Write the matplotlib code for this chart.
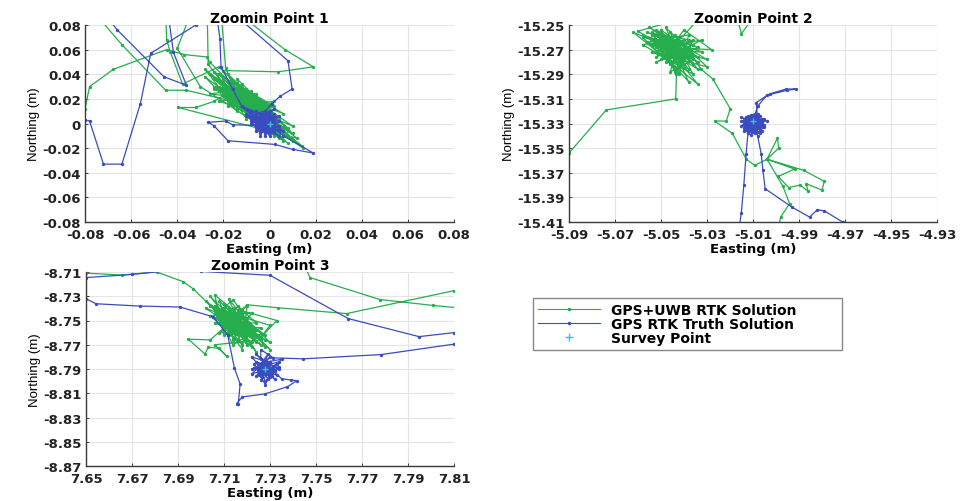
import numpy as np
import matplotlib
matplotlib.use("Agg")
import matplotlib.pyplot as plt
from matplotlib.lines import Line2D

plt.rcParams['axes.unicode_minus'] = False
plt.rcParams['font.family'] = ['DejaVu Sans']

NAN = float('nan')

# ---------------- data ----------------
titles = ["Zoomin Point 1", "Zoomin Point 2", "Zoomin Point 3"]
legend_labels = ["GPS+UWB RTK Solution", "GPS RTK Truth Solution", "Survey Point"]

p1_xticks = [-0.08, -0.06, -0.04, -0.02, 0, 0.02, 0.04, 0.06, 0.08]
p1_xlabels = ["-0.08", "-0.06", "-0.04", "-0.02", "0", "0.02", "0.04", "0.06", "0.08"]
p1_yticks = [-0.08, -0.06, -0.04, -0.02, 0, 0.02, 0.04, 0.06, 0.08]
p1_ylabels = ["-0.08", "-0.06", "-0.04", "-0.02", "0", "0.02", "0.04", "0.06", "0.08"]

p2_xticks = [-5.09, -5.07, -5.05, -5.03, -5.01, -4.99, -4.97, -4.95, -4.93]
p2_xlabels = ["-5.09", "-5.07", "-5.05", "-5.03", "-5.01", "-4.99", "-4.97", "-4.95", "-4.93"]
p2_yticks = [-15.41, -15.39, -15.37, -15.35, -15.33, -15.31, -15.29, -15.27, -15.25]
p2_ylabels = ["-15.41", "-15.39", "-15.37", "-15.35", "-15.33", "-15.31", "-15.29", "-15.27", "-15.25"]

p3_xticks = [7.65, 7.67, 7.69, 7.71, 7.73, 7.75, 7.77, 7.79, 7.81]
p3_xlabels = ["7.65", "7.67", "7.69", "7.71", "7.73", "7.75", "7.77", "7.79", "7.81"]
p3_yticks = [-8.87, -8.85, -8.83, -8.81, -8.79, -8.77, -8.75, -8.73, -8.71]
p3_ylabels = ["-8.87", "-8.85", "-8.83", "-8.81", "-8.79", "-8.77", "-8.75", "-8.73", "-8.71"]

survey_pts = [(0.0, 0.0), (-5.010, -15.328), (7.728, -8.790)]

g1 = [(-0.085,-0.005),(-0.080,0.012),(-0.078,0.030),(-0.0677,0.044),(-0.0446,0.060),(-0.037,0.056),(-0.027,0.054),(-0.026,0.050),
(-0.010,0.020),(-0.022,0.035),(-0.002,0.012),(-0.018,0.040),(0.004,-0.002),(-0.024,0.030),(-0.006,0.024),(-0.014,0.010),(-0.028,0.038),(-0.004,0.004),(-0.016,0.028),(0.008,-0.006),(-0.020,0.022),(-0.008,0.016),(0.012,-0.012),
(-0.0395,0.013),(-0.032,0.013),(-0.024,0.018),
(-0.012,0.032),(-0.018,0.014),(0.002,0.018),(-0.010,0.004),(-0.024,0.042),(0.006,0.008),(-0.014,0.022),(0.014,-0.018),(-0.006,0.006),(-0.020,0.034),(-0.002,-0.004),(-0.012,0.026),(0.010,-0.002),(-0.016,0.018),
(-0.036,0.027),(-0.045,0.027),(-0.064,0.064),(-0.075,0.088),(-0.045,0.090),(-0.0446,0.068),(-0.043,0.058),(-0.0377,0.032),
(-0.022,0.046),(-0.004,0.014),(0.004,0.002),(-0.010,0.028),(-0.026,0.024),(-0.006,0.020),(0.008,-0.010),(-0.014,0.016),(-0.008,0.008),(-0.018,0.030),(0.000,0.010),(-0.012,0.018),(0.006,-0.014),
(-0.030,0.030),(-0.040,0.061),(-0.034,0.090),(-0.027,0.090),(-0.0266,0.048),
(-0.016,0.024),(-0.004,0.018),(-0.020,0.028),(0.002,0.004),(-0.010,0.012),(-0.014,0.036),(0.010,-0.008),(-0.008,0.022),(-0.022,0.018),(-0.002,0.008),(-0.012,0.014),(0.004,-0.008),
(-0.020,0.043),(0.0038,0.042),(0.019,0.046),(0.0067,0.060),(-0.014,0.090),(-0.021,0.090),(-0.019,0.045),
(-0.016,0.032),(-0.006,0.012),(0.000,0.002),(-0.010,0.024),(-0.018,0.020),(-0.028,0.044),(-0.004,0.010),(0.006,-0.004),(-0.014,0.012),(-0.020,0.026),(0.002,-0.010),(-0.008,0.018),(0.0147,-0.020),(-0.002,0.000),(-0.024,0.036),(-0.010,0.016),(0.008,-0.016),(-0.016,0.020),(-0.006,0.002),(-0.012,0.030),
(-0.018,0.026),(-0.004,0.006),(-0.022,0.040),(0.002,0.014),(-0.010,0.008),(-0.014,0.028),(0.004,-0.012),(-0.008,0.026),(-0.016,0.014),(-0.002,0.016),(-0.012,0.022),(0.010,-0.014),(-0.020,0.032),(-0.006,0.016),(-0.026,0.040),(-0.008,0.012),
(-0.014,0.024),(-0.004,0.008),(-0.018,0.034),(0.000,0.006),(-0.012,0.020),(-0.020,0.024),(-0.008,0.010),(-0.016,0.030),(0.002,0.000),(-0.010,0.018),(-0.024,0.028),(-0.006,0.014),(-0.014,0.018),(0.006,-0.008),(-0.012,0.024),(-0.018,0.022),(-0.002,0.010),(-0.010,0.020),(-0.022,0.030),(-0.008,0.014),(-0.014,0.026),(0.004,0.004),(-0.012,0.016),(-0.016,0.022),(-0.004,0.012),(-0.020,0.036),(-0.010,0.022),(-0.006,0.018),(-0.012,0.012),(-0.018,0.028),(0.000,0.014),(-0.008,0.020),(-0.014,0.020),(-0.010,0.026),(-0.016,0.026),(-0.006,0.010),(-0.012,0.028),(-0.002,0.004),(-0.008,0.024),(-0.014,0.014),(-0.004,0.020),(-0.010,0.010),(-0.018,0.018),(-0.006,0.022),(0.002,0.008),(-0.012,0.020),(-0.016,0.016),(-0.008,0.006),(0.008,-0.004),(-0.004,0.016)]

b1 = [(-0.085,0.004),(-0.080,0.003),(-0.078,0.002),(-0.072,-0.033),(-0.064,-0.033),(-0.056,0.016),(-0.0515,0.057),(-0.032,0.080),(-0.026,0.090),
(-0.072,0.090),(-0.066,0.076),(-0.0458,0.038),(-0.036,0.031),(-0.0417,0.058),(-0.044,0.090),
(-0.023,0.090),(-0.0215,0.069),(-0.021,0.046),(-0.016,0.028),(-0.012,0.014),
(-0.006,0.006),(0.002,-0.006),(-0.010,0.012),(0.004,0.002),(-0.004,-0.008),(-0.008,0.002),(0.000,0.010),(-0.002,-0.004),(0.004,-0.010),(-0.006,0.000),(0.002,0.006),(-0.004,0.004),(0.000,-0.008),(-0.008,0.008),(0.002,-0.002),
(-0.016,-0.001),(-0.019,0.002),(-0.0265,0.001),(-0.024,-0.002),(-0.018,-0.014),(0.0024,-0.017),(0.010,-0.021),(0.019,-0.024),(0.006,-0.010),
(-0.002,0.002),(0.006,-0.006),(-0.004,-0.002),(-0.010,0.006),(0.000,0.004),(-0.002,-0.010),(0.002,0.000),(-0.006,0.010),(0.004,-0.004),(-0.002,0.006),(-0.012,0.014),(-0.004,0.000),(0.002,0.012),(-0.006,-0.004),(0.000,-0.002),(-0.008,0.004),(0.004,0.006),(-0.002,-0.006),
(-0.004,-0.004),(0.000,0.000),(-0.006,0.002),(0.002,-0.008),(-0.002,0.004),(-0.008,0.006),(0.000,-0.006),(-0.004,0.008),(0.002,0.002),(-0.006,-0.006),(-0.002,0.000),(0.004,-0.006),(-0.008,0.000),(0.000,0.006),(-0.004,-0.010),(-0.002,0.008),(0.002,-0.004),(-0.006,0.004),(0.000,-0.010),(-0.004,0.002),(-0.002,-0.002),(-0.008,0.010),(0.002,0.004),(-0.006,-0.002),(0.000,0.002),(-0.004,-0.006),(0.004,-0.002),(-0.002,0.010),(-0.006,0.008),(0.000,-0.004),(-0.010,0.008),(-0.002,-0.008),(0.002,0.008),(-0.004,0.006),(0.001,0.016),
(0.0045,0.022),(0.0098,0.028),(0.008,0.051),(-0.016,0.090)]

g2 = [(-5.095,-15.365),(-5.090,-15.354),(-5.0738,-15.319),(-5.0436,-15.310),(-5.0433,-15.290),
(-5.040,-15.268),(-5.055,-15.252),(-5.034,-15.280),(-5.050,-15.262),(-5.044,-15.285),(-5.058,-15.260),(-5.036,-15.266),(-5.048,-15.276),(-5.052,-15.254),(-5.030,-15.278),(-5.046,-15.270),(-5.056,-15.264),(-5.038,-15.258),(-5.042,-15.290),(-5.050,-15.270),(-5.032,-15.272),(-5.054,-15.258),(-5.040,-15.282),(-5.046,-15.256),(-5.036,-15.290),(-5.058,-15.266),(-5.044,-15.262),(-5.034,-15.286),(-5.060,-15.255),
(-5.039,-15.244),(-5.033,-15.244),
(-5.050,-15.278),(-5.040,-15.254),(-5.028,-15.270),(-5.052,-15.268),(-5.038,-15.296),(-5.046,-15.264),(-5.056,-15.256),(-5.034,-15.268),(-5.042,-15.276),(-5.048,-15.252),(-5.030,-15.284),(-5.054,-15.272),(-5.044,-15.280),(-5.038,-15.262),(-5.050,-15.258),(-5.036,-15.278),(-5.046,-15.288),(-5.042,-15.266),(-5.032,-15.262),(-5.052,-15.280),(-5.040,-15.272),(-5.048,-15.266),(-5.034,-15.298),(-5.062,-15.256),(-5.044,-15.270),
(-5.046,-15.274),(-5.054,-15.262),(-5.040,-15.278),(-5.050,-15.266),(-5.036,-15.274),(-5.044,-15.258),(-5.052,-15.272),(-5.040,-15.262),(-5.048,-15.280),(-5.038,-15.268),(-5.056,-15.260),(-5.044,-15.276),(-5.034,-15.276),(-5.050,-15.254),(-5.042,-15.284),(-5.048,-15.260),(-5.038,-15.286),(-5.054,-15.266),(-5.042,-15.270),(-5.036,-15.282),(-5.046,-15.266),(-5.058,-15.258),(-5.040,-15.274),(-5.050,-15.264),(-5.044,-15.288),(-5.036,-15.262),(-5.052,-15.276),(-5.042,-15.260),(-5.048,-15.272),(-5.038,-15.276),(-5.046,-15.282),(-5.054,-15.256),(-5.040,-15.266),(-5.0325,-15.286),
(-5.0274,-15.294),(-5.0199,-15.318),(-5.0216,-15.328),(-5.0267,-15.328),(-5.019,-15.338),(-5.0129,-15.359),(-5.0093,-15.364),(-5.0039,-15.359),(-4.9994,-15.342),(-4.9988,-15.350),(-5.0039,-15.359),(-4.9919,-15.367),(-4.999,-15.373),(-4.9945,-15.382),(-4.9895,-15.380),(-4.9861,-15.385),(-4.9868,-15.379),(-4.980,-15.384),(-4.979,-15.377),(-4.988,-15.368),(-5.0039,-15.359),(-4.997,-15.381),(-4.9941,-15.395),(-4.998,-15.406),(-4.999,-15.415),
(NAN,NAN),(-5.017,-15.244),(-5.015,-15.257),(-5.010,-15.244)]

b2 = [(-5.0165,-15.420),(-5.0158,-15.412),(-5.0151,-15.403),(-5.0140,-15.380),(-5.0130,-15.355),(-5.0122,-15.338),
(-5.012,-15.326),(-5.006,-15.330),(-5.014,-15.334),(-5.008,-15.322),(-5.012,-15.338),(-5.005,-15.326),(-5.010,-15.332),(-5.015,-15.328),(-5.006,-15.336),(-5.011,-15.323),(-5.008,-15.334),(-5.013,-15.330),(-5.004,-15.328),(-5.010,-15.326),(-5.014,-15.336),(-5.007,-15.324),(-5.012,-15.332),(-5.009,-15.329),(-5.015,-15.325),(-5.006,-15.333),(-5.011,-15.336),(-5.008,-15.327),
(-5.0086,-15.313),(-5.0028,-15.306),(-4.9956,-15.302),(-4.9915,-15.302),(-4.9950,-15.303),(-5.0040,-15.307),(-5.0080,-15.316),(-5.0090,-15.322),
(-5.013,-15.333),(-5.007,-15.329),(-5.011,-15.339),(-5.005,-15.331),(-5.014,-15.327),(-5.009,-15.335),(-5.012,-15.324),(-5.006,-15.327),(-5.010,-15.337),(-5.013,-15.329),(-5.007,-15.335),(-5.010,-15.330),
(-5.011,-15.331),(-5.008,-15.325),(-5.013,-15.335),(-5.006,-15.329),(-5.010,-15.334),(-5.014,-15.331),(-5.008,-15.337),(-5.012,-15.327),(-5.005,-15.333),(-5.011,-15.328),(-5.009,-15.338),(-5.013,-15.325),(-5.007,-15.331),(-5.012,-15.335),(-5.010,-15.323),(-5.015,-15.332),(-5.006,-15.326),(-5.009,-15.333),(-5.012,-15.330),(-5.007,-15.338),(-5.014,-15.329),(-5.010,-15.328),
(-5.0080,-15.340),(-5.0064,-15.355),(-5.0057,-15.368),(-5.0047,-15.383),(-4.9930,-15.398),(-4.9854,-15.406),(-4.982,-15.400),(-4.979,-15.401),(-4.971,-15.410),(-4.965,-15.415)]

g3 = [(7.645,-8.711),(7.650,-8.711),(7.6655,-8.7125),(7.6807,-8.710),(7.6923,-8.718),(7.6967,-8.724),
(7.716,-8.760),(7.704,-8.730),(7.724,-8.768),(7.708,-8.742),(7.714,-8.733),(7.728,-8.772),(7.702,-8.740),(7.720,-8.752),(7.710,-8.762),(7.706,-8.729),(7.726,-8.760),(7.712,-8.748),(7.718,-8.770),(7.704,-8.746),(7.722,-8.744),(7.714,-8.766),(7.708,-8.734),(7.730,-8.774),(7.712,-8.740),(7.720,-8.762),(7.706,-8.752),(7.724,-8.752),(7.716,-8.738),(7.710,-8.756),
(7.7040,-8.766),(7.6945,-8.7654),(7.7017,-8.7776),(7.7032,-8.772),(7.7080,-8.773),(7.7112,-8.7795),(7.7060,-8.770),
(7.726,-8.766),(7.712,-8.732),(7.718,-8.758),(7.704,-8.738),(7.722,-8.772),(7.714,-8.744),(7.728,-8.762),(7.708,-8.760),(7.718,-8.748),(7.710,-8.736),(7.724,-8.776),(7.716,-8.752),(7.702,-8.734),(7.720,-8.766),(7.712,-8.754),(7.726,-8.756),(7.714,-8.770),(7.706,-8.744),(7.722,-8.760),(7.716,-8.742),(7.730,-8.768),(7.710,-8.750),(7.720,-8.738),(7.718,-8.774),(7.708,-8.748),
(7.714,-8.756),(7.722,-8.764),(7.708,-8.746),(7.718,-8.754),(7.712,-8.762),(7.724,-8.758),(7.706,-8.738),(7.716,-8.766),(7.720,-8.748),(7.710,-8.744),(7.726,-8.770),(7.714,-8.750),(7.718,-8.762),(7.708,-8.752),(7.722,-8.756),(7.712,-8.746),(7.716,-8.758),(7.720,-8.770),(7.710,-8.740),(7.724,-8.764),(7.714,-8.760),(7.718,-8.744),(7.706,-8.748),(7.722,-8.768),(7.712,-8.758),(7.716,-8.750),(7.728,-8.766),(7.710,-8.754),(7.720,-8.758),(7.714,-8.740),
(7.733,-8.750),(7.7260,-8.764),(7.7300,-8.754),(7.716,-8.746),(7.7200,-8.737),(7.7336,-8.7395),(7.7633,-8.7443),(7.81,-8.7254),(7.82,-8.722),
(NAN,NAN),(7.745,-8.705),(7.7474,-8.7146),(7.7778,-8.7327),(7.801,-8.7376),(7.82,-8.741)]

b3 = [(7.645,-8.7148),(7.650,-8.7146),(7.670,-8.712),(7.690,-8.708),(7.700,-8.7095),(7.730,-8.7127),(7.764,-8.7484),(7.7948,-8.7633),(7.81,-8.760),(7.82,-8.759),
(NAN,NAN),(7.645,-8.731),(7.65,-8.732),(7.6543,-8.7362),(7.6735,-8.7381),(7.6909,-8.7389),(7.7054,-8.747),(7.7116,-8.762),(7.7145,-8.789),(7.717,-8.8024),(7.7162,-8.819),(7.7155,-8.8185),(7.7180,-8.8130),(7.7277,-8.8106),(7.7376,-8.8046),(7.7416,-8.7997),(7.7390,-8.7990),(7.7350,-8.798),
(7.724,-8.778),(7.730,-8.786),(7.722,-8.790),(7.734,-8.784),(7.726,-8.796),(7.732,-8.792),(7.724,-8.784),(7.728,-8.800),(7.734,-8.788),(7.722,-8.794),(7.730,-8.780),(7.726,-8.790),(7.732,-8.798),(7.724,-8.788),(7.729,-8.794),(7.735,-8.782),(7.723,-8.786),(7.728,-8.803),(7.731,-8.789),(7.725,-8.792),(7.733,-8.795),(7.727,-8.783),(7.722,-8.780),(7.730,-8.797),(7.726,-8.786),(7.729,-8.778),
(7.727,-8.789),(7.731,-8.793),(7.725,-8.787),(7.729,-8.798),(7.733,-8.786),(7.726,-8.794),(7.730,-8.790),(7.724,-8.796),(7.728,-8.785),(7.732,-8.791),(7.726,-8.799),(7.730,-8.784),(7.727,-8.792),(7.723,-8.789),(7.731,-8.796),(7.728,-8.788),(7.725,-8.795),(7.729,-8.791),(7.734,-8.790),(7.726,-8.782),
(7.7260,-8.7740),(7.7314,-8.7808),(7.7445,-8.7816),(7.7783,-8.7781),(7.81,-8.7695),(7.82,-8.767)]

# ---------------- style ----------------
GREEN = "#26ad4e"
BLUE = "#3a4cbf"
CYAN = "#2ec4dc"

fig = plt.figure(figsize=(9.62, 5.02), dpi=100)
W, H = 962.0, 502.0
boxes = [(85, 26, 454, 223), (569, 26, 937, 223), (86, 273, 454, 467)]

panels = [
    (g1, b1, survey_pts[0], p1_xticks, p1_xlabels, p1_yticks, p1_ylabels),
    (g2, b2, survey_pts[1], p2_xticks, p2_xlabels, p2_yticks, p2_ylabels),
    (g3, b3, survey_pts[2], p3_xticks, p3_xlabels, p3_yticks, p3_ylabels),
]

for i, (box, pan) in enumerate(zip(boxes, panels)):
    l, t, r, b = box
    ax = fig.add_axes([l / W, 1 - b / H, (r - l) / W, (b - t) / H])
    g, bl, sp, xt, xl, yt, yl = pan
    gx = [p[0] for p in g]; gy = [p[1] for p in g]
    bx = [p[0] for p in bl]; by = [p[1] for p in bl]
    ax.plot(gx, gy, '-', color=GREEN, lw=0.9, marker='.', ms=2.8)
    ax.plot(bx, by, '-', color=BLUE, lw=0.9, marker='.', ms=2.8)
    ax.plot([sp[0]], [sp[1]], '+', color=CYAN, ms=5, mew=1)
    ax.set_xlim(xt[0], xt[-1])
    ax.set_ylim(yt[0], yt[-1])
    ax.set_xticks(xt)
    ax.set_xticklabels(xl, fontsize=9.5, fontweight='bold')
    ax.set_yticks(yt)
    ax.set_yticklabels(yl, fontsize=9.5, fontweight='bold')
    ax.tick_params(direction='in', length=2.5, width=0.6, pad=2, colors='#222222')
    ax.tick_params(axis='x', pad=4.5)
    ax.tick_params(axis='y', pad=3)
    ax.grid(True, color='#e4e4e4', lw=0.8)
    ax.set_axisbelow(True)
    for s in ['top', 'right']:
        ax.spines[s].set_visible(False)
    for s in ['left', 'bottom']:
        ax.spines[s].set_color('#3a3a3a')
        ax.spines[s].set_linewidth(1.0)
    ax.set_title(titles[i], fontsize=10, fontweight='bold', pad=0.5)
    ax.set_xlabel("Easting (m)", fontsize=9.5, fontweight='bold', labelpad=0.5)
    ax.set_ylabel("Northing (m)", fontsize=9.5, family=['Liberation Sans Narrow', 'Liberation Sans'], labelpad=2)

handles = [
    Line2D([], [], color=GREEN, lw=0.8, marker='.', ms=3),
    Line2D([], [], color=BLUE, lw=0.8, marker='.', ms=3),
    Line2D([], [], color=CYAN, lw=0, marker='+', ms=6, mew=1),
]
leg = fig.legend(handles, legend_labels, loc='lower left',
                 bbox_to_anchor=(533 / W, 1 - 351 / H, 309 / W, 48 / H), mode='expand',
                 borderaxespad=0, fancybox=False, edgecolor='#888888',
                 prop={'weight': 'bold', 'size': 10}, handlelength=4.5,
                 labelspacing=0.0, borderpad=0.35, handletextpad=0.8, framealpha=1)
leg.get_frame().set_linewidth(1.0)

fig.savefig("out.png", dpi=100)
